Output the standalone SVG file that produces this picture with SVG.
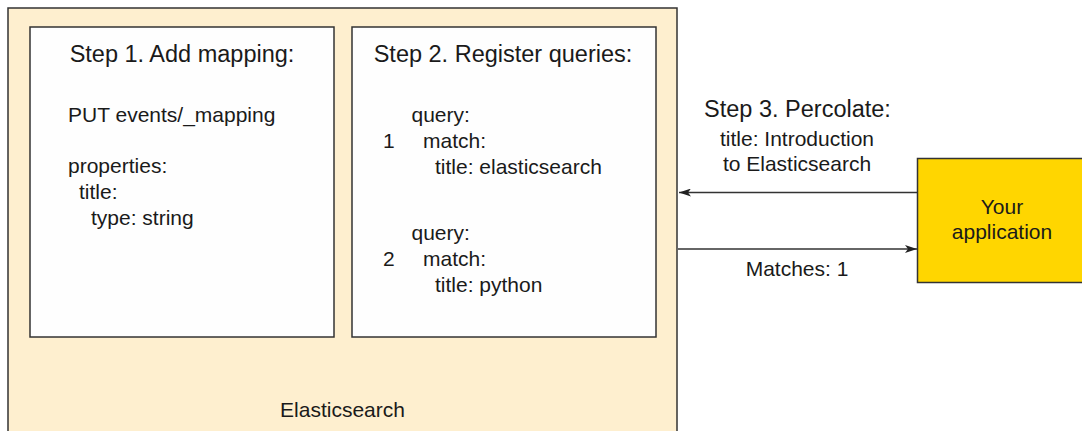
<svg xmlns="http://www.w3.org/2000/svg" width="1082" height="431" viewBox="0 0 1082 431">
<defs>
<style>
text{font-family:"Liberation Sans",Arial,sans-serif;fill:#1a1a1a}
.h{font-size:23.5px}
.b{font-size:21px}
.c{text-anchor:middle}
.box{stroke:#333;stroke-width:1.5}
.ln{stroke:#333;stroke-width:1.5;fill:none}
</style>
<marker id="ah" viewBox="0 0 12 8" refX="12" refY="4" markerWidth="12" markerHeight="8" markerUnits="userSpaceOnUse" orient="auto">
<path d="M0,0 L12,4 L0,8 L3,4 Z" fill="#222"/>
</marker>
</defs>
<rect width="1082" height="431" fill="#fff"/>
<g id="elasticsearch">
<rect class="box" x="8" y="8" width="669" height="440" fill="#FEEFCF"/>
<text class="b c" x="342.5" y="417">Elasticsearch</text>
</g>
<g id="step1">
<rect class="box" x="30" y="27" width="304" height="310" fill="#FEFEFE"/>
<text class="h c" x="182" y="62">Step 1. Add mapping:</text>
<text class="b" x="68" y="122">PUT events/_mapping</text>
<text class="b" x="68" y="173">properties:</text>
<text class="b" x="79" y="199">title:</text>
<text class="b" x="91" y="225">type: string</text>
</g>
<g id="step2">
<rect class="box" x="352" y="27" width="304" height="310" fill="#FEFEFE"/>
<text class="h c" x="503" y="62">Step 2. Register queries:</text>
<text class="b" x="411.5" y="122">query:</text>
<text class="b" x="383" y="147.5">1</text>
<text class="b" x="423" y="147.5">match:</text>
<text class="b" x="435" y="173.5">title: elasticsearch</text>
<text class="b" x="411.5" y="240">query:</text>
<text class="b" x="383" y="266">2</text>
<text class="b" x="423" y="266">match:</text>
<text class="b" x="435" y="292">title: python</text>
</g>
<g id="app">
<rect class="box" x="917.5" y="158.5" width="170" height="124" fill="#FFD600"/>
<text class="b c" x="1002" y="213.5">Your</text>
<text class="b c" x="1002" y="238.5">application</text>
</g>
<g id="connectors">
<line class="ln" x1="917" y1="192.5" x2="679" y2="192.5" marker-end="url(#ah)"/>
<line class="ln" x1="678" y1="249" x2="917" y2="249" marker-end="url(#ah)"/>
<text class="h c" x="797.5" y="117">Step 3. Percolate:</text>
<text class="b c" x="797" y="146">title: Introduction</text>
<text class="b c" x="797" y="171">to Elasticsearch</text>
<text class="b c" x="797" y="276">Matches: 1</text>
</g>
</svg>
